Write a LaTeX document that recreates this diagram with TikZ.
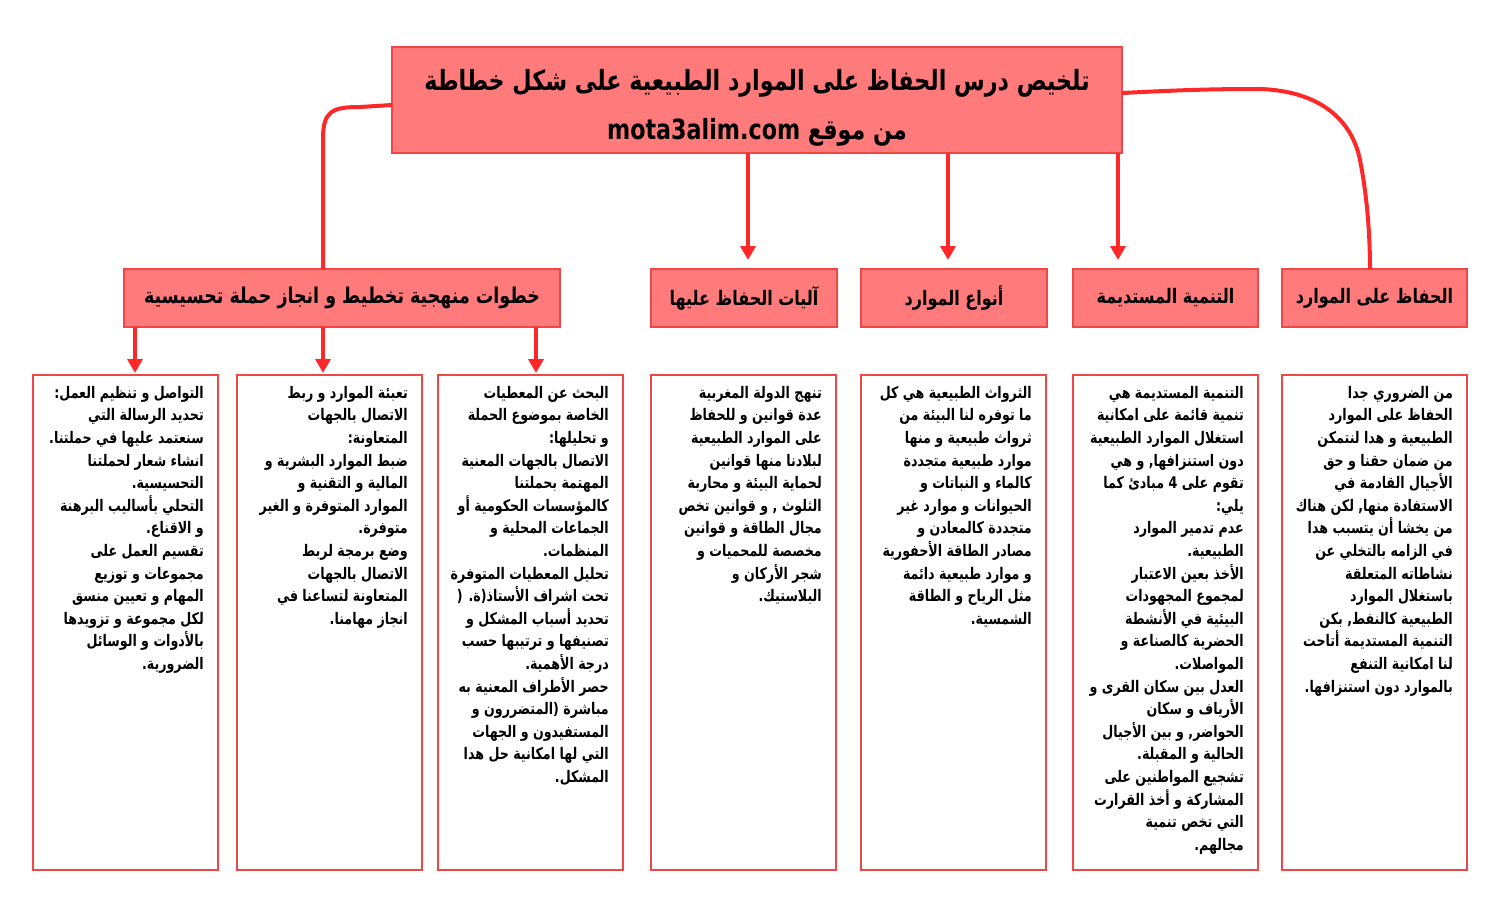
\documentclass[tikz,border=0pt]{standalone}
\usepackage{fontspec}
\TeXXeTstate=1
\newfontfamily\arabicfont[Script=Arabic,FakeStretch=0.79]{DejaVu Sans}
\newfontfamily\arabictitle[Script=Arabic,FakeStretch=0.8]{DejaVu Sans}
\usetikzlibrary{arrows.meta}
\definecolor{boxfill}{RGB}{255,122,122}
\definecolor{boxline}{RGB}{240,70,70}
\definecolor{conncol}{RGB}{255,40,40}
\newcommand\rl[1]{\beginR #1\endR}
\tikzset{
  titlebox/.style={draw=boxline, line width=1.5pt, fill=boxfill, outer sep=0pt, anchor=north west, inner sep=0pt},
  headbox/.style={draw=boxline, line width=1.5pt, fill=boxfill, outer sep=0pt, anchor=north west, inner sep=0pt,
    font=\arabictitle\bfseries\fontsize{20}{22}\selectfont},
  bodybox/.style={draw=boxline, line width=1.3pt, fill=white, outer sep=0pt, anchor=north west, inner sep=0pt,
    minimum width=185pt, minimum height=495pt},
  bodytext/.style={anchor=north east, inner sep=0pt, align=right,
    font=\arabicfont\bfseries\fontsize{16}{22.6}\selectfont},
  conn/.style={draw=conncol, line width=4pt},
  arr/.style={conn, -{Triangle[width=15pt,length=14pt]}}
}
\begin{document}
\begin{tikzpicture}[x=1pt,y=-1pt]
\useasboundingbox (0,0) rectangle (1500,923);
% title
\node[titlebox, minimum width=730pt, minimum height=106pt, align=center,
  font=\arabictitle\bfseries\fontsize{27.8}{49}\selectfont] (title) at (392,47)
  {\rule{0pt}{36pt}\rl{تلخيص درس الحفاظ على الموارد الطبيعية على شكل خطاطة}\\
   \rl{من موقع \beginL mota3alim.com\endL}};
% headers
\node[headbox, minimum width=436pt, minimum height=58pt, font=\arabictitle\bfseries\fontsize{21.8}{22}\selectfont] (h1) at (124,269) {\rl{خطوات منهجية تخطيط و انجاز حملة تحسيسية}};
\node[headbox, minimum width=186pt, minimum height=58pt] (h2) at (651,269) {\rl{آليات الحفاظ عليها}};
\node[headbox, minimum width=186pt, minimum height=58pt] (h3) at (861,269) {\rl{أنواع الموارد}};
\node[headbox, minimum width=185pt, minimum height=58pt] (h4) at (1073,269) {\rl{التنمية المستديمة}};
\node[headbox, minimum width=185pt, minimum height=58pt] (h5) at (1282,269) {\rl{الحفاظ على الموارد}};
% body boxes
\node[bodybox] (b1) at (1282,375) {};
\node[bodybox] (b2) at (1073,375) {};
\node[bodybox] (b3) at (861,375) {};
\node[bodybox] (b4) at (651,375) {};
\node[bodybox] (b5) at (438,375) {};
\node[bodybox] (b6) at (237,375) {};
\node[bodybox] (b7) at (33,375) {};
% body texts
\node[bodytext] (t1) at ([xshift=-14pt,yshift=-11pt]b1.north east) {%
\rl{من الضروري جدا}\\
\rl{الحفاظ على الموارد}\\
\rl{الطبيعية و هدا لنتمكن}\\
\rl{من ضمان حقنا و حق}\\
\rl{الأجيال القادمة في}\\
\rl{الاستفادة منها, لكن هناك}\\
\rl{من يخشا أن يتسبب هدا}\\
\rl{في الزامه بالتخلي عن}\\
\rl{نشاطاته المتعلقة}\\
\rl{باستغلال الموارد}\\
\rl{الطبيعية كالنفط, بكن}\\
\rl{التنمية المستديمة أتاحت}\\
\rl{لنا امكانية التنفع}\\
\rl{بالموارد دون استنزافها.}};
\node[bodytext] (t2) at ([xshift=-14pt,yshift=-11pt]b2.north east) {%
\rl{التنمية المستديمة هي}\\
\rl{تنمية قائمة على امكانية}\\
\rl{استغلال الموارد الطبيعية}\\
\rl{دون استنزافها, و هي}\\
\rl{تقوم على 4 مبادئ كما}\\
\rl{يلي:}\\
\rl{عدم تدمير الموارد}\\
\rl{الطبيعية.}\\
\rl{الأخذ بعين الاعتبار}\\
\rl{لمجموع المجهودات}\\
\rl{البيئية في الأنشطة}\\
\rl{الحضرية كالصناعة و}\\
\rl{المواصلات.}\\
\rl{العدل بين سكان القرى و}\\
\rl{الأرياف و سكان}\\
\rl{الحواضر, و بين الأجيال}\\
\rl{الحالية و المقبلة.}\\
\rl{تشجيع المواطنين على}\\
\rl{المشاركة و أخذ القرارت}\\
\rl{التي تخص تنمية}\\
\rl{مجالهم.}};
\node[bodytext] (t3) at ([xshift=-14pt,yshift=-11pt]b3.north east) {%
\rl{الثرواث الطبيعية هي كل}\\
\rl{ما توفره لنا البيئة من}\\
\rl{ثرواث طبيعية و منها}\\
\rl{موارد طبيعية متجددة}\\
\rl{كالماء و النباتات و}\\
\rl{الحيوانات و موارد غير}\\
\rl{متجددة كالمعادن و}\\
\rl{مصادر الطاقة الأحفورية}\\
\rl{و موارد طبيعية دائمة}\\
\rl{مثل الرياح و الطاقة}\\
\rl{الشمسية.}};
\node[bodytext] (t4) at ([xshift=-14pt,yshift=-11pt]b4.north east) {%
\rl{تنهج الدولة المغربية}\\
\rl{عدة قوانين و للحفاظ}\\
\rl{على الموارد الطبيعية}\\
\rl{لبلادنا منها قوانين}\\
\rl{لحماية البيئة و محاربة}\\
\rl{الثلوث , و قوانين تخص}\\
\rl{مجال الطاقة و قوانين}\\
\rl{مخصصة للمحميات و}\\
\rl{شجر الأركان و}\\
\rl{البلاستيك.}};
\node[bodytext] (t5) at ([xshift=-14pt,yshift=-11pt]b5.north east) {%
\rl{البحث عن المعطيات}\\
\rl{الخاصة بموضوع الحملة}\\
\rl{و تحليلها:}\\
\rl{الاتصال بالجهات المعنية}\\
\rl{المهتمة بحملتنا}\\
\rl{كالمؤسسات الحكومية أو}\\
\rl{الجماعات المحلية و}\\
\rl{المنظمات.}\\
\rl{تحليل المعطيات المتوفرة}\\
\rl{تحت اشراف الأستاذ(ة. (}\\
\rl{تحديد أسباب المشكل و}\\
\rl{تصنيفها و ترتيبها حسب}\\
\rl{درجة الأهمية.}\\
\rl{حصر الأطراف المعنية به}\\
\rl{مباشرة (المتضررون و}\\
\rl{المستفيدون و الجهات}\\
\rl{التي لها امكانية حل هدا}\\
\rl{المشكل.}};
\node[bodytext] (t6) at ([xshift=-14pt,yshift=-11pt]b6.north east) {%
\rl{تعبئة الموارد و ربط}\\
\rl{الاتصال بالجهات}\\
\rl{المتعاونة:}\\
\rl{ضبط الموارد البشرية و}\\
\rl{المالية و التقنية و}\\
\rl{الموارد المتوفرة و الغير}\\
\rl{متوفرة.}\\
\rl{وضع برمجة لربط}\\
\rl{الاتصال بالجهات}\\
\rl{المتعاونة لتساعنا في}\\
\rl{انجاز مهامنا.}};
\node[bodytext] (t7) at ([xshift=-14pt,yshift=-11pt]b7.north east) {%
\rl{التواصل و تنظيم العمل:}\\
\rl{تحديد الرسالة التي}\\
\rl{سنعتمد عليها في حملتنا.}\\
\rl{انشاء شعار لحملتنا}\\
\rl{التحسيسية.}\\
\rl{التحلي بأساليب البرهنة}\\
\rl{و الاقناع.}\\
\rl{تقسيم العمل على}\\
\rl{مجموعات و توزيع}\\
\rl{المهام و تعيين منسق}\\
\rl{لكل مجموعة و تزويدها}\\
\rl{بالأدوات و الوسائل}\\
\rl{الضرورية.}};
% connectors
\draw[conn] ([yshift=-5pt]title.west) -- ++(-32,2) .. controls ++(-28,0) and ++(0,-28) .. ([xshift=-19pt,yshift=130pt]h1.north) -- ([xshift=-19pt]h1.north);
\draw[conn] ([yshift=7pt]title.east) .. controls ++(60,-3) and ++(-50,0) .. ++(138,-4)
  .. controls ++(60,2) and ++(-8,-40) .. ++(100,71) .. controls ++(6,30) and ++(0,-40) .. ([xshift=-4.5pt]h5.north);
\draw[arr, shorten >=9pt] ([xshift=-9pt]title.south) -- ([xshift=-9pt]title.south |- h2.north);
\draw[arr, shorten >=9pt] ([xshift=191pt]title.south) -- ([xshift=191pt]title.south |- h3.north);
\draw[arr, shorten >=9pt] ([xshift=361pt]title.south) -- ([xshift=361pt]title.south |- h4.north);
\draw[arr, shorten >=2pt] ([xshift=-207pt]h1.south) -- ([xshift=-207pt]h1.south |- b7.north);
\draw[arr, shorten >=2pt] ([xshift=-19pt]h1.south) -- ([xshift=-19pt]h1.south |- b6.north);
\draw[arr, shorten >=2pt] ([xshift=194pt]h1.south) -- ([xshift=194pt]h1.south |- b5.north);
\end{tikzpicture}
\end{document}
